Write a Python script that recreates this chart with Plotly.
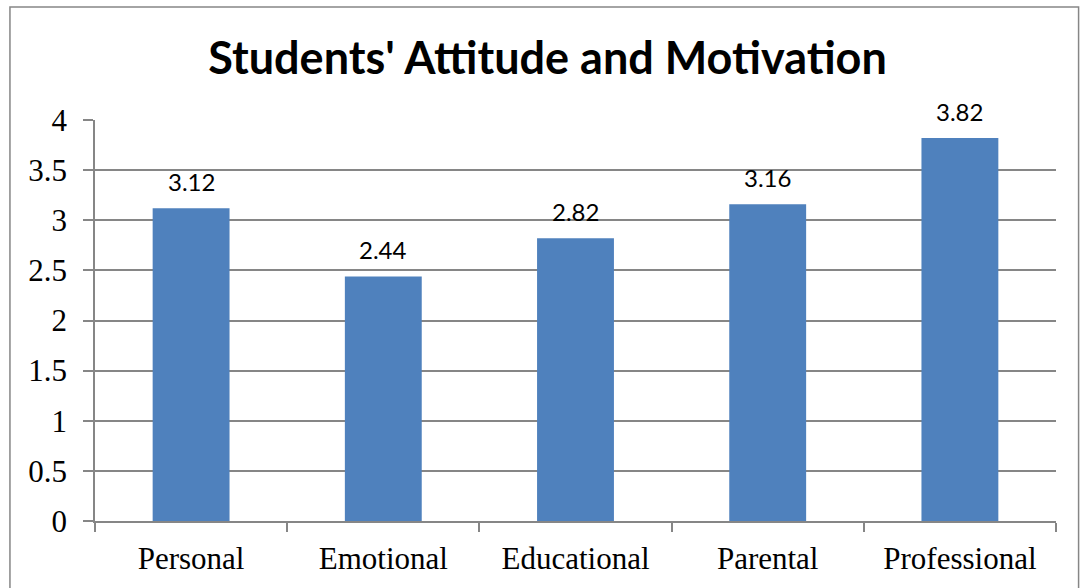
import plotly.graph_objects as go

categories = ["Personal", "Emotional", "Educational", "Parental", "Professional"]
values = [3.12, 2.44, 2.82, 3.16, 3.82]
value_labels = ["3.12", "2.44", "2.82", "3.16", "3.82"]
y_ticks = [0, 0.5, 1, 1.5, 2, 2.5, 3, 3.5, 4]
y_tick_labels = ["0", "0.5", "1", "1.5", "2", "2.5", "3", "3.5", "4"]

fig = go.Figure()
fig.add_trace(go.Bar(x=categories, y=values, marker=dict(color="#4F81BD", line=dict(width=0)),
                     width=0.4, hoverinfo="skip"))

for c, v, t in zip(categories, values, value_labels):
    fig.add_annotation(x=c, y=v, text=t, showarrow=False, yshift=27,
                       font=dict(family="Lato", size=24, color="#000000"))

fig.update_layout(
    width=1080, height=588,
    margin=dict(l=95, r=24, t=120, b=67),
    paper_bgcolor="white", plot_bgcolor="white",
    showlegend=False,
    title=dict(text="<b>Students' Attitude and Motivation</b>", x=0.507, xanchor="center",
               y=1 - 58/588, yanchor="middle",
               font=dict(family="Lato", size=45, color="#000000")),
    xaxis=dict(type="category", tickson="boundaries", ticks="outside", ticklen=9,
               tickcolor="#868686", tickwidth=1.5, showline=True, linecolor="#868686",
               linewidth=1.5, showgrid=False, ticklabelstandoff=9,
               tickfont=dict(family="Liberation Serif", size=31, color="#000000")),
    yaxis=dict(range=[0, 4], tickvals=y_ticks, ticktext=y_tick_labels, ticks="outside",
               ticklen=10, tickcolor="#868686", tickwidth=1.5, showline=True,
               linecolor="#868686", linewidth=1.5, showgrid=True, gridcolor="#868686",
               gridwidth=1.5, zeroline=False, ticklabelstandoff=10,
               tickfont=dict(family="Liberation Serif", size=31, color="#000000")),
    shapes=[dict(type="rect", xref="paper", yref="paper", x0=-0.0885, x1=1.0235,
                 y0=-0.2, y1=1.2818, line=dict(color="#868686", width=1.5),
                 fillcolor="rgba(0,0,0,0)", layer="below")],
)

fig.write_html("out.html", config={"displayModeBar": False},
               post_script="document.body.style.margin='0';")
